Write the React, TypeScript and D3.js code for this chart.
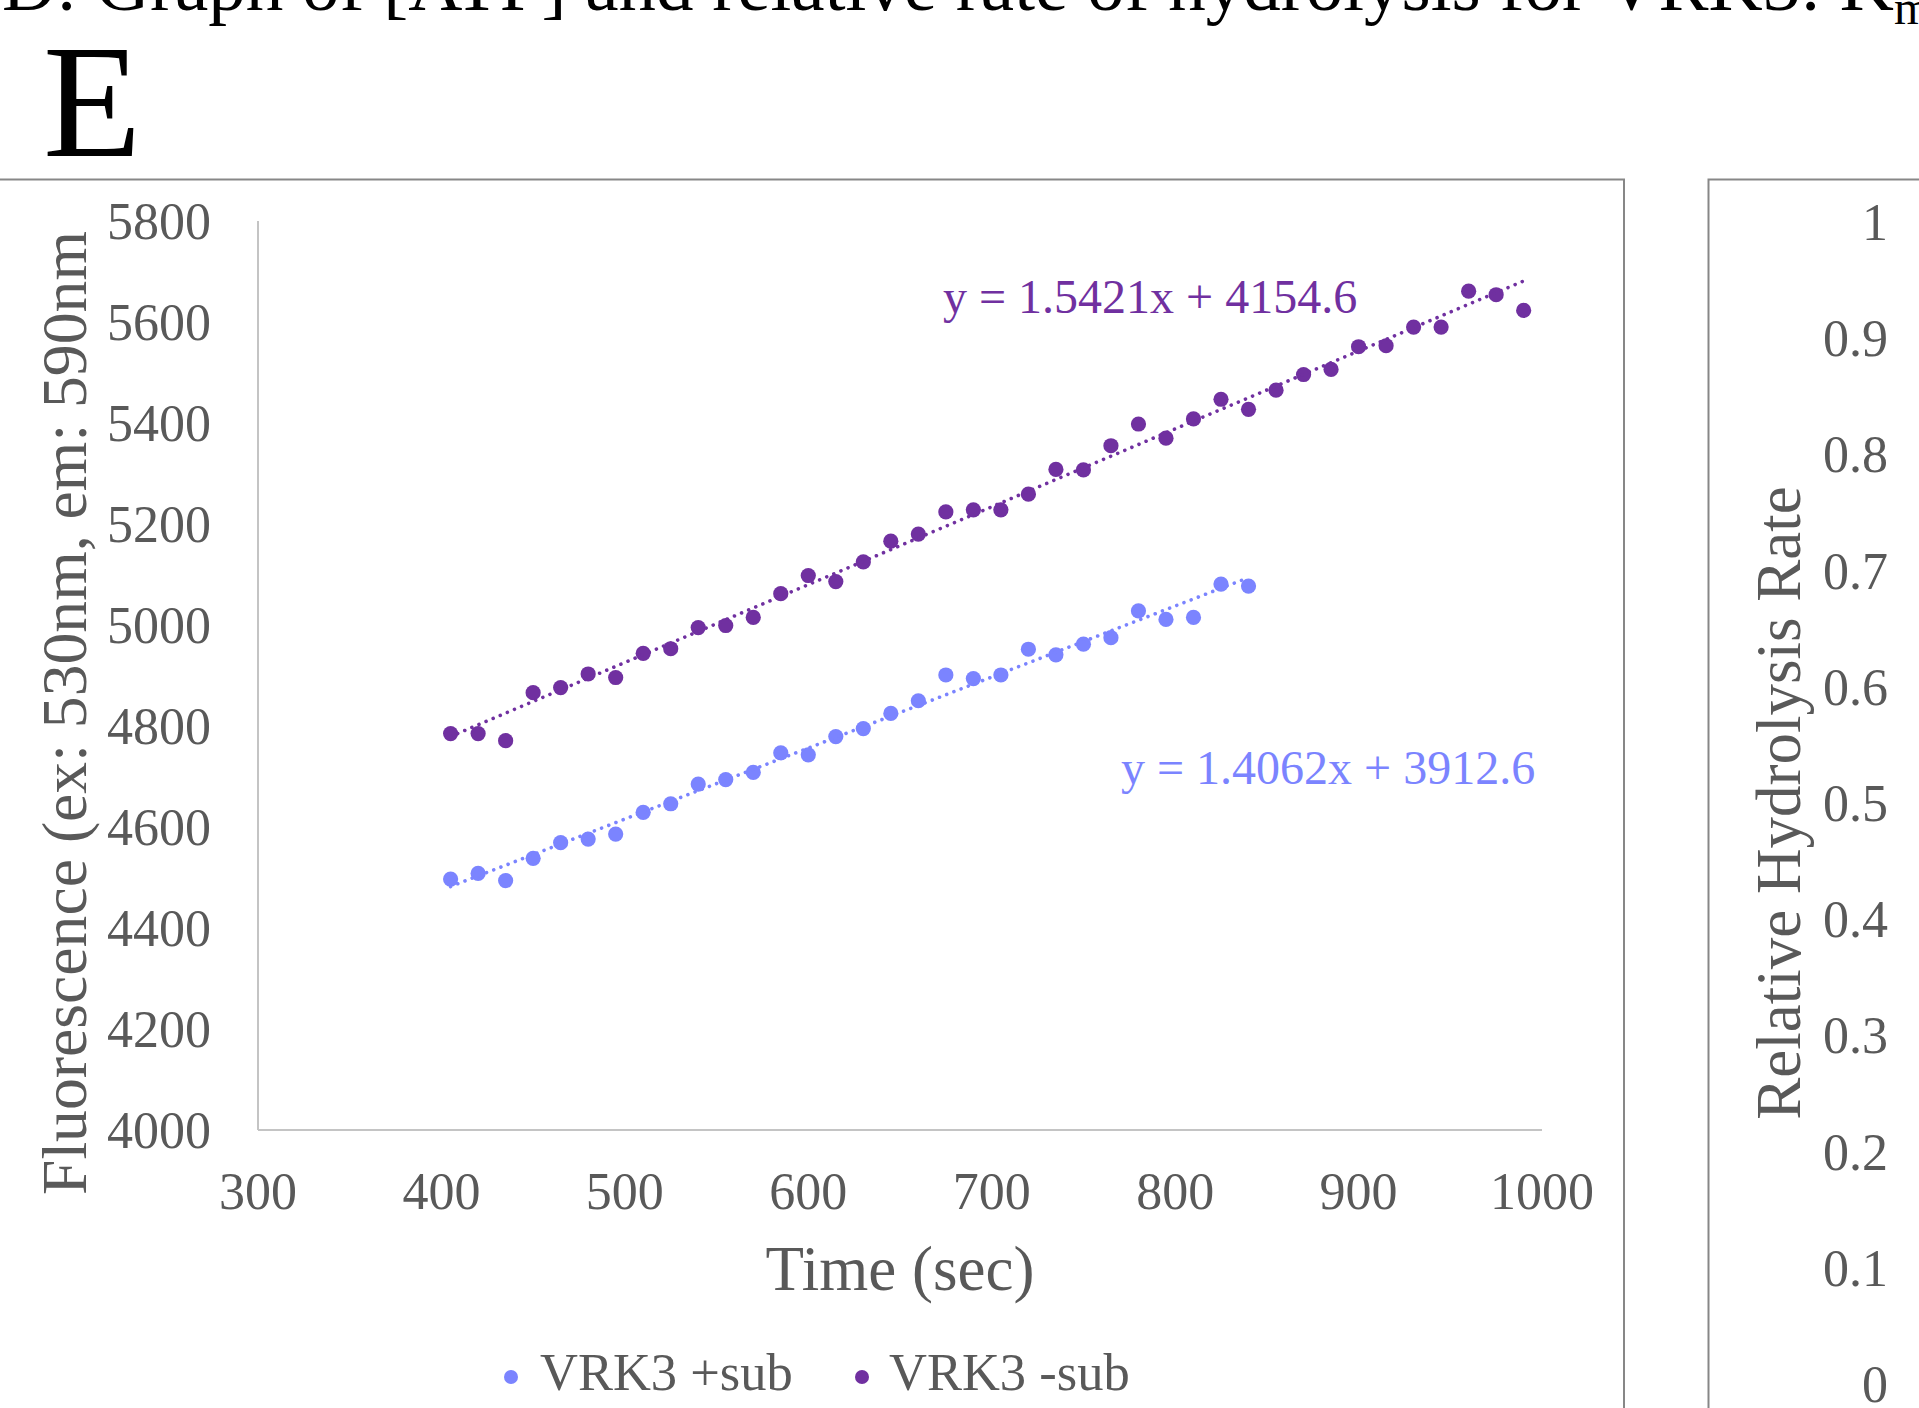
import React from "react";
import * as d3 from "d3";

const W = 1919;
const H = 1408;

const timeSec = [405, 420, 435, 450, 465, 480, 495, 510, 525, 540, 555, 570, 585, 600, 615, 630, 645, 660, 675, 690, 705, 720, 735, 750, 765, 780, 795, 810, 825, 840, 855, 870, 885, 900, 915, 930, 945, 960, 975, 990];

const plusSub = [4497, 4508, 4494, 4538, 4569, 4576, 4586, 4629, 4646, 4685, 4694, 4708, 4747, 4743, 4779, 4795, 4825, 4850, 4901, 4894, 4901, 4952, 4941, 4962, 4975, 5028, 5011, 5015, 5081, 5077];

const minusSub = [4785, 4785, 4771, 4866, 4876, 4903, 4896, 4944, 4953, 4995, 4999, 5015, 5062, 5098, 5086, 5125, 5166, 5180, 5224, 5228, 5228, 5259, 5308, 5307, 5355, 5398, 5370, 5408, 5447, 5427, 5465, 5496, 5506, 5551, 5553, 5590, 5590, 5661, 5654, 5623];

const seriesNames = ["VRK3 +sub", "VRK3 -sub"];
const slopes = [1.4062, 1.5421];
const intercepts = [3912.6, 4154.6];
const equationLabels = ["y = 1.4062x + 3912.6", "y = 1.5421x + 4154.6"];

const xTicks = [300, 400, 500, 600, 700, 800, 900, 1000];
const yTicks = [4000, 4200, 4400, 4600, 4800, 5000, 5200, 5400, 5600, 5800];
const rightTicks = [0, 0.1, 0.2, 0.3, 0.4, 0.5, 0.6, 0.7, 0.8, 0.9, 1];

const BLUE = "#7B84FF";
const PURPLE = "#7030A0";
const colors = [BLUE, PURPLE];
const FONT = "'Liberation Serif', 'Times New Roman', serif";
const GREY_TEXT = "#595959";

export default function App() {
  const x = d3.scaleLinear().domain([300, 1000]).range([258, 1542]);
  const y = d3.scaleLinear().domain([4000, 5800]).range([1130, 221]);
  const yR = d3.scaleLinear().domain([0, 1]).range([1384, 222]);

  const series = [plusSub, minusSub];
  const line = d3
    .line<[number, number]>()
    .x((d) => x(d[0]))
    .y((d) => y(d[1]));

  const eqPos = [
    { x: 1121, y: 784 },
    { x: 943, y: 313 },
  ];
  const legendPos = [
    { mx: 511, tx: 540 },
    { mx: 862, tx: 889 },
  ];

  return (
    <svg
      width={W}
      height={H}
      style={{ position: "absolute", left: 0, top: 0, background: "#fff" }}
      fontFamily={FONT}
    >
      <rect x={0} y={0} width={W} height={H} fill="#fff" />
      {/* caption text from page above */}
      <text x={2} y={10} fontSize={75} fill="#000">
        D: Graph of [ATP] and relative rate of hydrolysis for VRK3: K
        <tspan fontSize={48} dy={14}>m</tspan>
      </text>
      <text x={43} y={156} fontSize={161} fill="#000">
        E
      </text>

      {/* chart frames */}
      <path d={`M-5,179.5 H1624 V${H + 5}`} fill="none" stroke="#878787" strokeWidth={2} />
      <path d={`M${W + 5},179.5 H1708.5 V${H + 5}`} fill="none" stroke="#878787" strokeWidth={2} />

      {/* axes */}
      <line x1={x(300)} x2={x(1000)} y1={y(4000)} y2={y(4000)} stroke="#C4C4C4" strokeWidth={2} />
      <line x1={x(300)} x2={x(300)} y1={y(4000)} y2={y(5800)} stroke="#C4C4C4" strokeWidth={2} />

      {xTicks.map((t) => (
        <text key={"x" + t} x={x(t)} y={1209} fontSize={52} fill={GREY_TEXT} textAnchor="middle">
          {t}
        </text>
      ))}
      {yTicks.map((t) => (
        <text key={"y" + t} x={211} y={y(t) + 18} fontSize={52} fill={GREY_TEXT} textAnchor="end">
          {t}
        </text>
      ))}

      <text x={900} y={1290} fontSize={63} fill={GREY_TEXT} textAnchor="middle">
        Time (sec)
      </text>
      <text
        transform={`translate(86,1195) rotate(-90)`}
        fontSize={63.7}
        fill={GREY_TEXT}
        textAnchor="start"
      >
        Fluorescence (ex: 530nm, em: 590nm
      </text>

      {/* markers */}
      {series.map((vals, si) => (
        <g key={"s" + si} fill={colors[si]}>
          {vals.map((v, i) => (
            <circle key={i} cx={x(timeSec[i])} cy={y(v)} r={7.6} />
          ))}
        </g>
      ))}

      {/* trendlines */}
      {series.map((vals, si) => {
        const t0 = timeSec[0];
        const t1 = timeSec[vals.length - 1];
        const pts: [number, number][] = [
          [t0, slopes[si] * t0 + intercepts[si]],
          [t1, slopes[si] * t1 + intercepts[si]],
        ];
        return (
          <path
            key={"t" + si}
            d={line(pts) || ""}
            fill="none"
            stroke={colors[si]}
            strokeWidth={3.6}
            strokeDasharray="0.01 7.7"
            strokeLinecap="round"
          />
        );
      })}

      {equationLabels.map((lbl, si) => (
        <text key={"e" + si} x={eqPos[si].x} y={eqPos[si].y} fontSize={48} fill={colors[si]}>
          {lbl}
        </text>
      ))}

      {/* legend */}
      {seriesNames.map((n, si) => (
        <g key={"l" + si}>
          <circle cx={legendPos[si].mx} cy={1377} r={7} fill={colors[si]} />
          <text x={legendPos[si].tx} y={1390} fontSize={52.5} fill={GREY_TEXT}>
            {n}
          </text>
        </g>
      ))}

      {/* right chart (partially visible) */}
      {rightTicks.map((t) => (
        <text key={"r" + t} x={1888} y={yR(t) + 18} fontSize={52} fill={GREY_TEXT} textAnchor="end">
          {String(t)}
        </text>
      ))}
      <text
        transform={`translate(1800,803) rotate(-90)`}
        fontSize={63}
        fill={GREY_TEXT}
        textAnchor="middle"
      >
        Relative Hydrolysis Rate
      </text>
    </svg>
  );
}
